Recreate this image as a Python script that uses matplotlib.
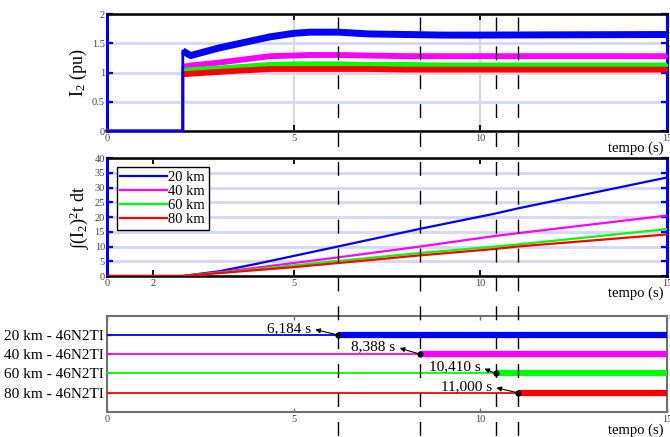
import matplotlib
matplotlib.use('Agg')
import matplotlib.pyplot as plt
from matplotlib.lines import Line2D
from matplotlib.transforms import blended_transform_factory

plt.rcParams['font.family'] = 'serif'
plt.rcParams['font.serif'] = ['Liberation Serif', 'DejaVu Serif']
plt.rcParams['mathtext.fontset'] = 'stix'
plt.rcParams['mathtext.default'] = 'regular'

# Negative-sequence current I2 (pu) for each line length
t_i2 = [0, 2.03, 2.03, 2.24, 3.0, 3.5, 4.37, 5.0, 5.44, 6.2, 7.0, 8.0, 9.0, 10.0, 15.0]
i2_20km = [0, 0, 1.37, 1.29, 1.42, 1.49, 1.61, 1.67, 1.69, 1.69, 1.66, 1.65, 1.64, 1.64, 1.65]
i2_40km = [0, 0, 1.10, 1.12, 1.17, 1.21, 1.28, 1.29, 1.30, 1.30, 1.29, 1.28, 1.28, 1.28, 1.28]
i2_60km = [0, 0, 1.03, 1.04, 1.07, 1.09, 1.13, 1.14, 1.14, 1.14, 1.13, 1.13, 1.12, 1.12, 1.12]
i2_80km = [0, 0, 0.97, 0.98, 1.01, 1.03, 1.06, 1.06, 1.06, 1.06, 1.06, 1.05, 1.05, 1.05, 1.05]

# Accumulated (I2)^2 t
t_int = [0, 2.03, 3.0, 4.0, 5.0, 6.184, 8.388, 10.41, 11.0, 15.0]
int_20km = [0, 0, 1.6, 4.1, 6.8, 10.0, 16.0, 21.2, 22.9, 33.4]
int_40km = [0, 0, 1.3, 2.8, 4.4, 6.3, 10.0, 13.6, 14.5, 20.5]
int_60km = [0, 0, 1.1, 2.3, 3.6, 5.1, 7.8, 10.0, 10.7, 15.9]
int_80km = [0, 0, 1.0, 2.0, 3.0, 4.4, 7.0, 9.2, 10.0, 14.1]

# Relay 46N2TI trip times (s)
trip_times = [6.184, 8.388, 10.410, 11.000]
legend_labels = ['20 km', '40 km', '60 km', '80 km']
relay_labels = ['20 km - 46N2TI', '40 km - 46N2TI', '60 km - 46N2TI', '80 km - 46N2TI']
relay_levels = [4, 3, 2, 1]
colors = ['#0000ff', '#ff00ff', '#00ff00', '#ff0000']

# where each trip-time label sits (right end, centre height)
label_x = [5.47, 7.73, 10.0, 10.32]
label_y = [4.33, 3.38, 2.34, 1.31]

i2_all = [i2_20km, i2_40km, i2_60km, i2_80km]
int_all = [int_20km, int_40km, int_60km, int_80km]

fig = plt.figure(figsize=(6.7, 4.37), dpi=100)
ax1 = fig.add_axes([0.1597, 0.7002, 0.8358, 0.2677])
ax2 = fig.add_axes([0.1597, 0.3684, 0.8358, 0.2700])
ax3 = fig.add_axes([0.1597, 0.0572, 0.8358, 0.2204])

grid_blue = '#d6d6f6'
tick_gray = '#444444'


def style_top_axes(ax):
    for side in ['left', 'right']:
        ax.spines[side].set_color('#0000ff')
        ax.spines[side].set_linewidth(2.2)
    for side in ['top', 'bottom']:
        ax.spines[side].set_color('black')
        ax.spines[side].set_linewidth(1.8)
    ax.tick_params(axis='y', direction='in', left=True, right=True, color='#0000ff',
                   length=4, width=1.6, labelsize=7.5, labelcolor=tick_gray, pad=1.5)
    ax.tick_params(axis='x', direction='in', top=True, bottom=True, color='black',
                   length=4, width=1.3, labelsize=7.5, labelcolor=tick_gray, pad=2)
    ax.set_xlim(0, 15)
    ax.text(0.993, -0.145, 'tempo (s)', ha='right', va='center',
            transform=ax.transAxes, fontsize=10.5)


# --- I2 (pu) ---
for k in [1, 2, 3, 0]:
    ax1.plot(t_i2, i2_all[k], color=colors[k], lw=2, zorder=3, clip_on=False)
    ax1.plot(t_i2[2:], i2_all[k][2:], color=colors[k], lw=5 if k == 0 else 4.2,
             zorder=3, solid_capstyle='butt')
ax1.set_ylim(0, 2)
ax1.set_yticks([0, 0.5, 1, 1.5, 2])
ax1.set_yticklabels(['0', '0.5', '1', '1.5', '2'])
ax1.set_xticks([0, 5, 10, 15])
ax1.yaxis.grid(True, color=grid_blue, lw=2)
ax1.xaxis.grid(True, color='#d8d8d8', lw=1.5)
ax1.set_axisbelow(True)
ax1.set_ylabel('I$_2$ (pu)', fontsize=13, labelpad=2)
style_top_axes(ax1)

# --- integral of (I2)^2 ---
for k in range(4):
    ax2.plot(t_int, int_all[k], color=colors[k], lw=1.6, label=legend_labels[k], zorder=3)
ax2.set_ylim(0, 40)
ax2.set_yticks(range(0, 41, 5))
ax2.set_xticks([0, 1.24, 5, 10, 15])
ax2.set_xticklabels(['0', '2', '5', '10', '15'])
ax2.yaxis.grid(True, color=grid_blue, lw=2)
ax2.set_axisbelow(True)
ax2.set_ylabel(r'$\int$(I$_2$)$^2$t dt', fontsize=13, labelpad=2)
style_top_axes(ax2)
leg = ax2.legend(loc='upper left', bbox_to_anchor=(0.017, 0.921), borderaxespad=0,
                 fontsize=10.5, handlelength=3.2, handletextpad=0.1, labelspacing=0.05,
                 borderpad=0.25, fancybox=False, framealpha=1, edgecolor='black')
leg.get_frame().set_linewidth(1.0)

# --- relay trip states ---
for k in range(4):
    y = relay_levels[k]
    tt = trip_times[k]
    ax3.plot([0, tt], [y, y], color=colors[k], lw=1.3, zorder=3)
    ax3.plot([tt, 15], [y, y], color=colors[k], lw=4.5, zorder=3, solid_capstyle='butt')
    ax3.plot([tt], [y], 'o', color='black', ms=3.5, zorder=4)
    txt = '{:.3f}'.format(tt).replace('.', ',') + ' s'
    ax3.annotate(txt, xy=(tt, y), xytext=(label_x[k], label_y[k]), ha='right', va='center',
                 fontsize=11, zorder=5,
                 arrowprops=dict(arrowstyle='<|-', color='black', lw=0.8, mutation_scale=7,
                                 relpos=(1.0, 0.5), shrinkA=1, shrinkB=1))
ax3.set_xlim(0, 15)
ax3.set_ylim(0, 5)
ax3.set_yticks(relay_levels)
ax3.set_yticklabels(relay_labels, fontsize=11)
ax3.set_xticks([0, 5, 10, 15])
for side in ax3.spines:
    ax3.spines[side].set_color('#707070')
    ax3.spines[side].set_linewidth(1.5)
ax3.tick_params(axis='x', direction='in', top=True, color='#707070', length=3,
                width=1, labelsize=7.5, labelcolor=tick_gray, pad=2)
ax3.tick_params(axis='y', direction='in', color='#707070', length=3, width=1, pad=2)
ax3.text(0.993, -0.19, 'tempo (s)', ha='right', va='center',
         transform=ax3.transAxes, fontsize=10.5)

# dashed markers of the trip instants across all three panels
trans = blended_transform_factory(ax3.transData, fig.transFigure)
for tt in trip_times:
    fig.add_artist(Line2D([tt, tt], [0.961, 0.0], transform=trans, color='black',
                          lw=1.0, ls=(0, (10, 10.8)), zorder=10))

fig.savefig('out.png', dpi=100)
